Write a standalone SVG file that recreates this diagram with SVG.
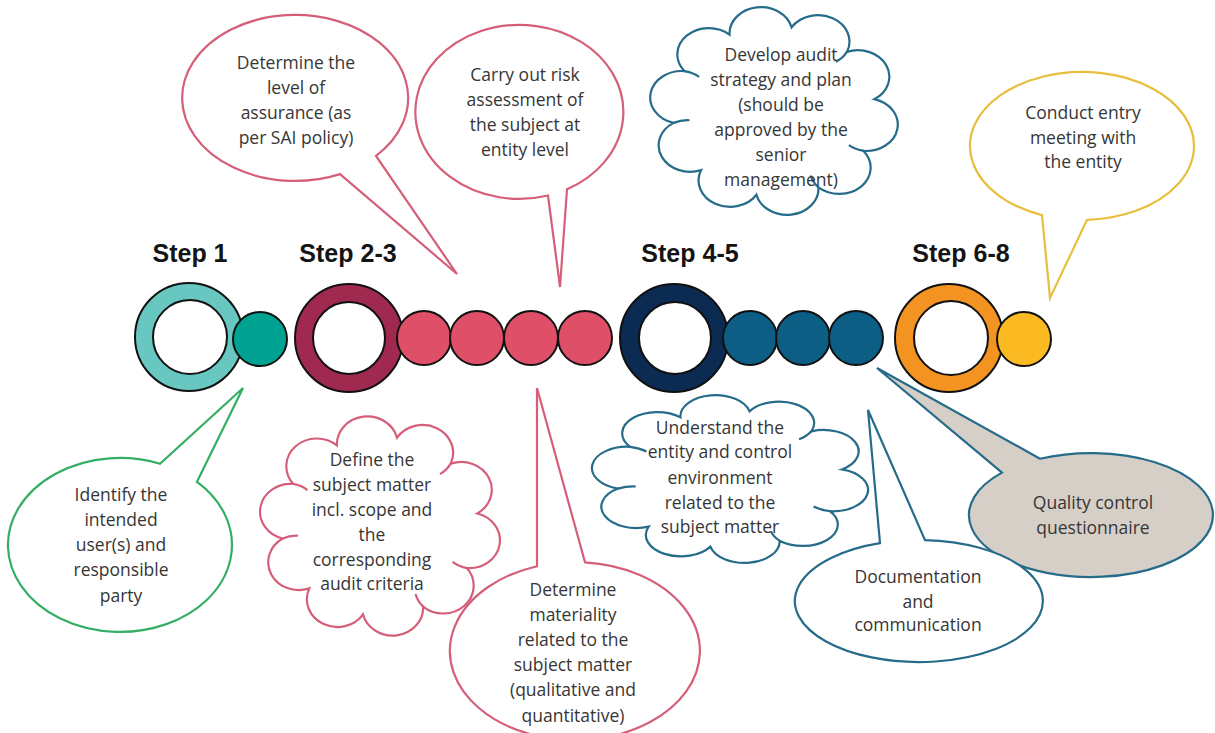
<svg xmlns="http://www.w3.org/2000/svg" xmlns:xlink="http://www.w3.org/1999/xlink" width="1215" height="733" viewBox="0 0 1215 733">
<style>
.t{font-family:"Open Sans","Liberation Sans",sans-serif;font-size:17.5px;fill:#363636;text-anchor:middle}
.st{font-family:"Liberation Sans",Arial,sans-serif;font-size:25px;font-weight:bold;fill:#141414;text-anchor:middle}
.pk{stroke:#D55F79;stroke-width:2.2;fill:#fff}
.gr{stroke:#34AE62;stroke-width:2.2;fill:#fff}
.ye{stroke:#E8BE3C;stroke-width:2.2;fill:#fff}
.bl{stroke:#266C8A;stroke-width:2.2;fill:#fff}
.qc{stroke:#266C8A;stroke-width:2.2;fill:#D6CFC7}
.rg{stroke:#111;stroke-width:2}
.in{stroke:#111;stroke-width:2;fill:#fff}
</style>
<defs>
<g id="cloud">
<path fill="#fff" vector-effect="non-scaling-stroke" d="M113.5 23.2 A24.2 24.2 0 0 1 156.1 45.8 A24.2 24.2 0 0 1 177.2 89.1 A24.2 24.2 0 0 1 168.9 136.6 A24.2 24.2 0 0 1 134.2 170.1 A24.2 24.2 0 0 1 86.5 176.8 A24.2 24.2 0 0 1 43.9 154.2 A24.2 24.2 0 0 1 22.8 110.9 A24.2 24.2 0 0 1 31.1 63.4 A24.2 24.2 0 0 1 65.8 29.9 A24.2 24.2 0 0 1 113.5 23.2 Z"/>
<path fill="none" vector-effect="non-scaling-stroke" d="M22.8 110.9 A24.1 24.1 0 0 1 35 108.5 M31.1 63.4 A24.1 24.1 0 0 1 42.4 68.7 M168.9 136.6 A24.1 24.1 0 0 1 157.6 131.3 M134.2 170.1 A24.1 24.1 0 0 1 128.2 159.2 M156.1 45.8 A24.1 24.1 0 0 1 147.6 54.9"/>
</g>
</defs>
<rect width="1215" height="733" fill="#fff"/>

<g id="step-labels">
<text class="st" x="190" y="262">Step 1</text>
<text class="st" x="348" y="262">Step 2-3</text>
<text class="st" x="690" y="262">Step 4-5</text>
<text class="st" x="961" y="262">Step 6-8</text>
</g>

<g id="timeline">
<g id="step1">
<circle class="rg" cx="189" cy="337" r="54" fill="#68C7C0"/>
<circle class="in" cx="190" cy="337" r="37"/>
<circle class="rg" cx="260" cy="339" r="27" fill="#00A392"/>
</g>
<g id="step2-3">
<circle class="rg" cx="349" cy="338" r="54" fill="#A0294F"/>
<circle class="in" cx="349" cy="338" r="36"/>
<circle class="rg" cx="424" cy="338" r="27" fill="#DF4F68"/>
<circle class="rg" cx="477" cy="338" r="27" fill="#DF4F68"/>
<circle class="rg" cx="531" cy="338" r="27" fill="#DF4F68"/>
<circle class="rg" cx="585" cy="338" r="27" fill="#DF4F68"/>
</g>
<g id="step4-5">
<circle class="rg" cx="674" cy="338" r="54" fill="#0B2B52"/>
<circle class="in" cx="675" cy="338" r="36"/>
<circle class="rg" cx="750" cy="338" r="27" fill="#0C5E85"/>
<circle class="rg" cx="803" cy="338" r="27" fill="#0C5E85"/>
<circle class="rg" cx="856" cy="338" r="27" fill="#0C5E85"/>
</g>
<g id="step6-8">
<circle class="rg" cx="949" cy="338" r="54" fill="#F39322"/>
<circle class="in" cx="951" cy="338" r="37"/>
<circle class="rg" cx="1024" cy="339" r="27" fill="#FBBA21"/>
</g>
</g>

<g id="connectors"></g>

<g id="level-of-assurance">
<path class="pk" d="M340 174.1 L457 274 L376 155.9 A113 83 0 1 0 340 174.1 Z"/>
<text class="t" x="296" y="69">Determine the</text>
<text class="t" x="296" y="94">level of</text>
<text class="t" x="296" y="119">assurance (as</text>
<text class="t" x="296" y="144">per SAI policy)</text>
</g>

<g id="risk-assessment">
<path class="pk" d="M548 195.5 L560 287 L567 189.2 A104 87 0 1 0 548 195.5 Z"/>
<text class="t" x="525" y="81">Carry out risk</text>
<text class="t" x="525" y="106">assessment of</text>
<text class="t" x="525" y="131">the subject at</text>
<text class="t" x="525" y="156">entity level</text>
</g>

<g id="audit-strategy">
<use xlink:href="#cloud" href="#cloud" transform="translate(644 2) scale(1.3 1.09)" stroke="#266C8A" stroke-width="2.2"/>
<text class="t" x="781" y="61">Develop audit</text>
<text class="t" x="781" y="86">strategy and plan</text>
<text class="t" x="781" y="111">(should be</text>
<text class="t" x="781" y="136">approved by the</text>
<text class="t" x="781" y="161">senior</text>
<text class="t" x="781" y="186">management)</text>
</g>

<g id="entry-meeting">
<path class="ye" d="M1042 215.1 L1050 298 L1087 219.9 A112 74 0 1 0 1042 215.1 Z"/>
<text class="t" x="1083" y="119">Conduct entry</text>
<text class="t" x="1083" y="144">meeting with</text>
<text class="t" x="1083" y="168">the entity</text>
</g>

<g id="intended-users">
<path class="gr" d="M197 481.8 L243 388 L160 463.7 A112 87 0 1 0 197 481.8 Z"/>
<text class="t" x="121" y="501">Identify the</text>
<text class="t" x="121" y="526">intended</text>
<text class="t" x="121" y="551">user(s) and</text>
<text class="t" x="121" y="576">responsible</text>
<text class="t" x="121" y="602">party</text>
</g>

<g id="subject-matter">
<use xlink:href="#cloud" href="#cloud" transform="translate(254 411) scale(1.26 1.15)" stroke="#D55F79" stroke-width="2.2"/>
<text class="t" x="372" y="466">Define the</text>
<text class="t" x="372" y="491">subject matter</text>
<text class="t" x="372" y="516">incl. scope and</text>
<text class="t" x="372" y="541">the</text>
<text class="t" x="372" y="566">corresponding</text>
<text class="t" x="372" y="590">audit criteria</text>
</g>

<g id="materiality">
<path class="pk" d="M585 562.3 L537 388 L537 566.2 A125 89 0 1 0 585 562.3 Z"/>
<text class="t" x="573" y="596">Determine</text>
<text class="t" x="573" y="621">materiality</text>
<text class="t" x="573" y="646">related to the</text>
<text class="t" x="573" y="671">subject matter</text>
<text class="t" x="573" y="696">(qualitative and</text>
<text class="t" x="573" y="722">quantitative)</text>
</g>

<g id="entity-environment">
<use xlink:href="#cloud" href="#cloud" transform="translate(585 391) scale(1.45 0.88)" stroke="#266C8A" stroke-width="2.2"/>
<text class="t" x="720" y="434">Understand the</text>
<text class="t" x="720" y="458">entity and control</text>
<text class="t" x="720" y="484">environment</text>
<text class="t" x="720" y="509">related to the</text>
<text class="t" x="720" y="533">subject matter</text>
</g>

<g id="quality-control">
<path class="qc" d="M1040 458.7 L877 368 L1002 472.6 A122 62 0 1 0 1040 458.7 Z"/>
<text class="t" x="1093" y="509">Quality control</text>
<text class="t" x="1093" y="534">questionnaire</text>
</g>

<g id="documentation">
<path class="bl" d="M925 540.1 L868 410 L880 543.1 A124 61 0 1 0 925 540.1 Z"/>
<text class="t" x="918" y="583">Documentation</text>
<text class="t" x="918" y="608">and</text>
<text class="t" x="918" y="631">communication</text>
</g>
</svg>
